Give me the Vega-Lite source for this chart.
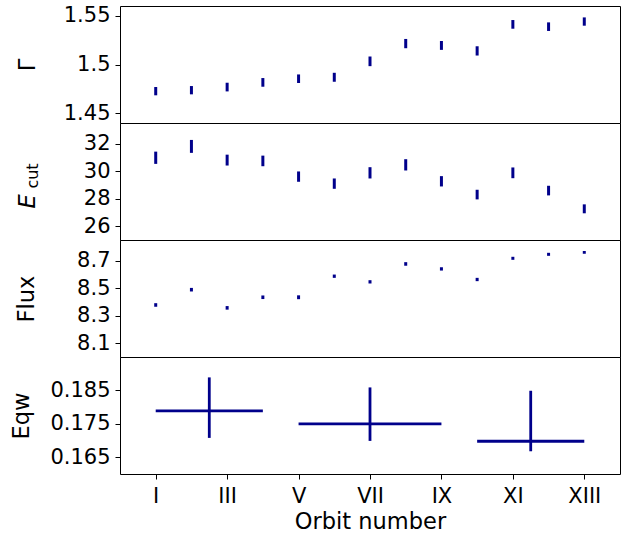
{
  "$schema": "https://vega.github.io/schema/vega-lite/v6.json",
  "padding": {"left": 9, "top": 4, "right": 8, "bottom": 0},
  "background": "white",
  "spacing": 0,
  "bounds": "flush",
  "config": {
    "view": {"stroke": "black", "strokeWidth": 1},
    "axis": {
      "labelFont": "DejaVu Sans", "titleFont": "DejaVu Sans",
      "labelFontSize": 21, "titleFontSize": 22.5, "titleFontWeight": "normal",
      "labelColor": "black", "titleColor": "black", "tickColor": "black",
      "tickSize": 5, "labelPadding": 5, "grid": false, "domain": false,
      "labelFlush": false, "labelOverlap": false
    },
    "concat": {"spacing": 0}
  },
  "datasets": {
    "orbits": [
      {"orbit": 1, "gamma_lo": 1.4684, "gamma_hi": 1.4769, "ecut_lo": 30.53, "ecut_hi": 31.42, "flux_lo": 8.365, "flux_hi": 8.391},
      {"orbit": 2, "gamma_lo": 1.4694, "gamma_hi": 1.4779, "ecut_lo": 31.33, "ecut_hi": 32.27, "flux_lo": 8.476, "flux_hi": 8.502},
      {"orbit": 3, "gamma_lo": 1.4724, "gamma_hi": 1.4813, "ecut_lo": 30.41, "ecut_hi": 31.20, "flux_lo": 8.344, "flux_hi": 8.370},
      {"orbit": 4, "gamma_lo": 1.4772, "gamma_hi": 1.4861, "ecut_lo": 30.36, "ecut_hi": 31.13, "flux_lo": 8.421, "flux_hi": 8.447},
      {"orbit": 5, "gamma_lo": 1.4810, "gamma_hi": 1.4898, "ecut_lo": 29.23, "ecut_hi": 29.98, "flux_lo": 8.420, "flux_hi": 8.448},
      {"orbit": 6, "gamma_lo": 1.4823, "gamma_hi": 1.4915, "ecut_lo": 28.72, "ecut_hi": 29.47, "flux_lo": 8.575, "flux_hi": 8.599},
      {"orbit": 7, "gamma_lo": 1.4983, "gamma_hi": 1.5082, "ecut_lo": 29.47, "ecut_hi": 30.29, "flux_lo": 8.534, "flux_hi": 8.558},
      {"orbit": 8, "gamma_lo": 1.5167, "gamma_hi": 1.5262, "ecut_lo": 30.05, "ecut_hi": 30.87, "flux_lo": 8.663, "flux_hi": 8.689},
      {"orbit": 9, "gamma_lo": 1.5150, "gamma_hi": 1.5241, "ecut_lo": 28.89, "ecut_hi": 29.64, "flux_lo": 8.628, "flux_hi": 8.652},
      {"orbit": 10, "gamma_lo": 1.5092, "gamma_hi": 1.5187, "ecut_lo": 27.95, "ecut_hi": 28.65, "flux_lo": 8.551, "flux_hi": 8.575},
      {"orbit": 11, "gamma_lo": 1.5367, "gamma_hi": 1.5456, "ecut_lo": 29.49, "ecut_hi": 30.27, "flux_lo": 8.706, "flux_hi": 8.728},
      {"orbit": 12, "gamma_lo": 1.5344, "gamma_hi": 1.5432, "ecut_lo": 28.24, "ecut_hi": 28.94, "flux_lo": 8.735, "flux_hi": 8.757},
      {"orbit": 13, "gamma_lo": 1.5398, "gamma_hi": 1.5483, "ecut_lo": 26.94, "ecut_hi": 27.59, "flux_lo": 8.750, "flux_hi": 8.770}
    ],
    "eqw": [
      {"start": 1, "end": 4, "mid": 2.5, "eqw": 0.1789, "eqw_lo": 0.1708, "eqw_hi": 0.1889},
      {"start": 5, "end": 9, "mid": 7, "eqw": 0.1750, "eqw_lo": 0.1699, "eqw_hi": 0.1859},
      {"start": 10, "end": 13, "mid": 11.5, "eqw": 0.1698, "eqw_lo": 0.1668, "eqw_hi": 0.1849}
    ]
  },
  "vconcat": [
    {
      "width": 500, "height": 117,
      "data": {"name": "orbits"},
      "mark": {"type": "rule", "color": "#00008b", "strokeWidth": 3},
      "encoding": {
        "x": {"field": "orbit", "type": "quantitative", "scale": {"domain": [0, 14], "nice": false, "zero": false}, "axis": null},
        "y": {"field": "gamma_lo", "type": "quantitative", "scale": {"domain": [1.44, 1.56], "nice": false, "zero": false},
              "axis": {"title": "Γ", "values": [1.45, 1.5, 1.55], "labelExpr": "format(datum.value, '.3~g')", "titleX": -86, "titleY": 58.5, "titleBaseline": "alphabetic"}},
        "y2": {"field": "gamma_hi"}
      }
    },
    {
      "width": 500, "height": 117,
      "data": {"name": "orbits"},
      "layer": [
        {
          "mark": {"type": "rule", "color": "#00008b", "strokeWidth": 3},
          "encoding": {
            "x": {"field": "orbit", "type": "quantitative", "scale": {"domain": [0, 14], "nice": false, "zero": false}, "axis": null},
            "y": {"field": "ecut_lo", "type": "quantitative", "scale": {"domain": [25, 33.5], "nice": false, "zero": false},
                  "axis": {"title": "E", "titleFontStyle": "italic", "values": [26, 28, 30, 32], "titleX": -86, "titleY": 78, "titleBaseline": "alphabetic"}},
            "y2": {"field": "ecut_hi"}
          }
        },
        {
          "mark": {"type": "rule", "color": "#00008b", "strokeWidth": 3, "strokeOpacity": 0},
          "encoding": {
            "x": {"field": "orbit", "type": "quantitative", "scale": {"domain": [0, 14], "nice": false, "zero": false}, "axis": null},
            "y": {"field": "ecut_lo", "type": "quantitative", "scale": {"domain": [25, 33.5], "nice": false, "zero": false},
                  "axis": {"orient": "left", "title": "cut", "titleFontSize": 16, "labels": false, "ticks": false, "domain": false, "titleX": -83, "titleY": 52.5, "titleBaseline": "alphabetic"}},
            "y2": {"field": "ecut_hi"}
          }
        }
      ],
      "resolve": {"scale": {"y": "independent"}, "axis": {"y": "independent"}}
    },
    {
      "width": 500, "height": 117,
      "data": {"name": "orbits"},
      "mark": {"type": "rule", "color": "#00008b", "strokeWidth": 3},
      "encoding": {
        "x": {"field": "orbit", "type": "quantitative", "scale": {"domain": [0, 14], "nice": false, "zero": false}, "axis": null},
        "y": {"field": "flux_lo", "type": "quantitative", "scale": {"domain": [8.0, 8.85], "nice": false, "zero": false},
              "axis": {"title": "Flux", "values": [8.1, 8.3, 8.5, 8.7], "titleX": -87, "titleY": 58.5, "titleBaseline": "alphabetic"}},
        "y2": {"field": "flux_hi"}
      }
    },
    {
      "width": 500, "height": 117,
      "data": {"name": "eqw"},
      "layer": [
        {
          "mark": {"type": "rule", "color": "#00008b", "strokeWidth": 2.8},
          "encoding": {
            "x": {"field": "start", "type": "quantitative", "scale": {"domain": [0, 14], "nice": false, "zero": false},
                  "axis": {"title": "Orbit number", "values": [1, 3, 5, 7, 9, 11, 13], "labelExpr": "['','I','II','III','IV','V','VI','VII','VIII','IX','X','XI','XII','XIII'][datum.value]", "labelPadding": 6, "titlePadding": 4}},
            "x2": {"field": "end"},
            "y": {"field": "eqw", "type": "quantitative", "scale": {"domain": [0.16, 0.195], "nice": false, "zero": false},
                  "axis": {"title": "Eqw", "values": [0.165, 0.175, 0.185], "labelExpr": "format(datum.value, '.3~g')", "titleX": -92, "titleY": 58.5, "titleBaseline": "alphabetic"}}
          }
        },
        {
          "mark": {"type": "rule", "color": "#00008b", "strokeWidth": 2.8},
          "encoding": {
            "x": {"field": "mid", "type": "quantitative", "scale": {"domain": [0, 14], "nice": false, "zero": false},
                  "axis": {"title": "Orbit number", "values": [1, 3, 5, 7, 9, 11, 13], "labelExpr": "['','I','II','III','IV','V','VI','VII','VIII','IX','X','XI','XII','XIII'][datum.value]", "labelPadding": 6, "titlePadding": 4}},
            "y": {"field": "eqw_lo", "type": "quantitative", "scale": {"domain": [0.16, 0.195], "nice": false, "zero": false},
                  "axis": {"title": "Eqw", "values": [0.165, 0.175, 0.185], "labelExpr": "format(datum.value, '.3~g')", "titleX": -92, "titleY": 58.5, "titleBaseline": "alphabetic"}},
            "y2": {"field": "eqw_hi"}
          }
        }
      ]
    }
  ]
}
